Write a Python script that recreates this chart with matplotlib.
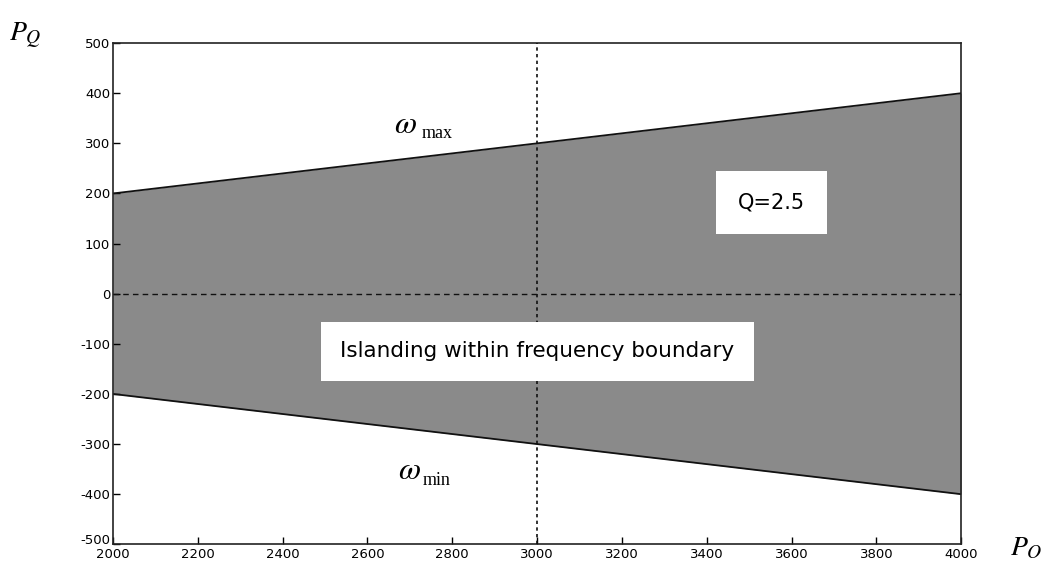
import matplotlib
matplotlib.use("Agg")
import matplotlib.pyplot as plt
import matplotlib.transforms as mtransforms

plt.rcParams['axes.unicode_minus'] = False

# Data
p_o = [2000, 4000]
upper = [200, 400]   # omega_max boundary
lower = [-200, -400] # omega_min boundary
xticks = list(range(2000, 4001, 200))
yticks = list(range(-500, 501, 100))
vline_x = 3000
hline_y = 0

fig = plt.figure(figsize=(10.46, 5.67), dpi=100)
ax = fig.add_axes([0.108, 0.040, 0.811, 0.884])

ax.fill_between(p_o, lower, upper, color='#8a8a8a', linewidth=0, zorder=1)
ax.plot(p_o, upper, color='#111111', lw=1.3, zorder=2)
ax.plot(p_o, lower, color='#111111', lw=1.3, zorder=2)
ax.axvline(vline_x, color='#111111', lw=1.2, ls=(0, (2, 2)), zorder=3)
ax.axhline(hline_y, color='#111111', lw=1.0, ls=(0, (4, 3)), zorder=3)

ax.set_xlim(2000, 4000)
ax.set_ylim(-500, 500)
ax.set_xticks(xticks)
ax.set_yticks(yticks)
ax.tick_params(direction='in', length=5, width=1, labelsize=9.5)
ax.tick_params(axis='x', pad=3)
ax.tick_params(axis='y', pad=2)
for lbl in ax.get_xticklabels() + ax.get_yticklabels():
    lbl.set_family('DejaVu Sans')
# nudge the lowest y label up a little so it clears the first x label
low = ax.get_yticklabels()[0]
low.set_transform(low.get_transform() +
                  mtransforms.ScaledTranslation(0, 4 / 72, fig.dpi_scale_trans))
for s in ax.spines.values():
    s.set_linewidth(1.2)
    s.set_color('#222222')

ax.text(3552, 182, 'Q=2.5', ha='center', va='center', fontsize=15,
        family='DejaVu Sans', zorder=5,
        bbox=dict(boxstyle='square,pad=1.05', fc='white', ec='none'))
ax.text(3000, -115, 'Islanding within frequency boundary', ha='center', va='center',
        fontsize=15.5, family='DejaVu Sans', zorder=5,
        bbox=dict(boxstyle='square,pad=0.9', fc='white', ec='none'))

# omega labels (big italic omega + roman subscript)
ax.text(2689, 338, r'$\omega$', ha='center', va='center', fontsize=23,
        math_fontfamily='stix')
ax.text(2764, 319, 'max', ha='center', va='center', fontsize=13,
        family='Liberation Serif')
ax.text(2698, -352, r'$\omega$', ha='center', va='center', fontsize=23,
        math_fontfamily='stix')
ax.text(2762, -372, 'min', ha='center', va='center', fontsize=13,
        family='Liberation Serif')

fig.text(0.009, 0.936, r'$P_Q$', fontsize=20, ha='left', va='center',
         math_fontfamily='stix')
fig.text(0.966, 0.035, r'$P_O$', fontsize=20, ha='left', va='center',
         math_fontfamily='stix')

fig.savefig('out.png', dpi=100)
